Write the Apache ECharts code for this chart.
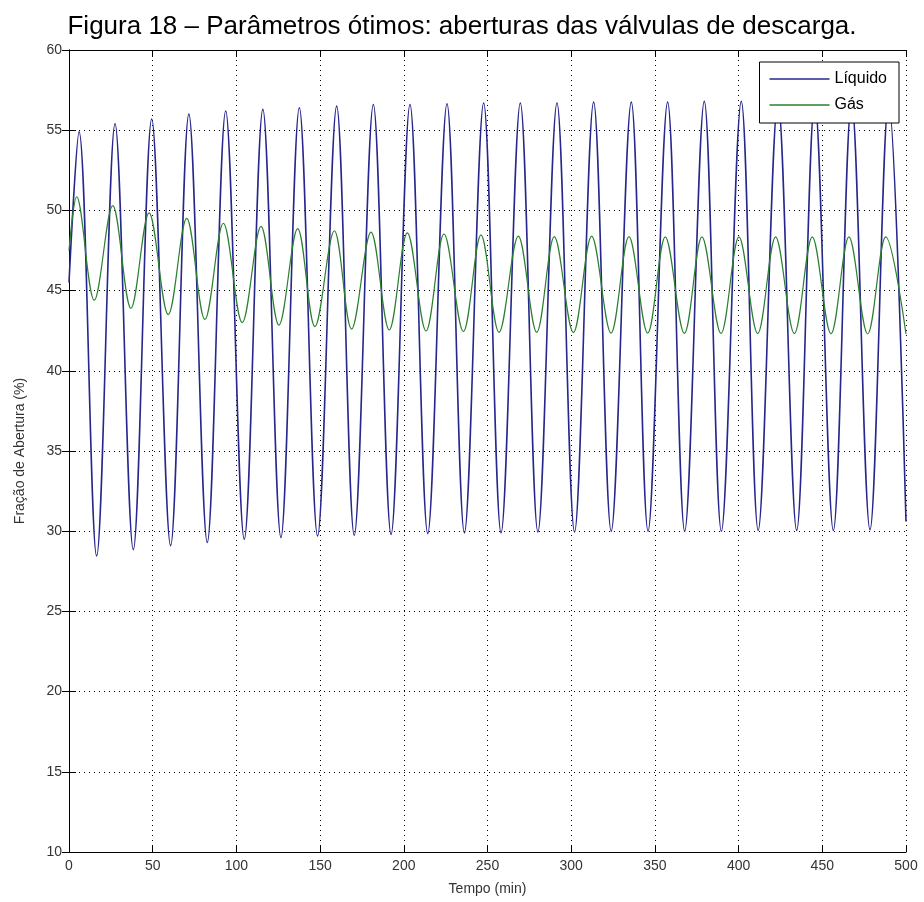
<!DOCTYPE html>
<html lang="pt">
<head>
  <meta charset="UTF-8">
  <title>Figura 18</title>
  <script src="https://cdn.jsdelivr.net/npm/echarts@6/dist/echarts.min.js"></script>
  <style>
    *{margin:0;padding:0;}
    body{background:#fff;}
    #chart{width:924px;height:902px;}
  </style>
</head>
<body>
  <div id="chart"></div>
  <script>
    // valores: início, picos e vales alternados, fim
    var liquidoTempo = [0, 6.0, 16.5, 27.5, 38.4, 49.4, 60.7, 71.6, 82.6, 93.6, 104.7, 115.8, 126.6,
      137.6, 148.5, 159.9, 170.4, 181.8, 192.4, 203.7, 214.3, 225.8, 236.2, 247.7, 258.1,
      269.6, 280.1, 291.5, 302.0, 313.4, 323.9, 335.9, 345.9, 357.6, 367.8, 379.5, 389.7,
      401.6, 411.7, 423.5, 434.7, 445.5, 456.6, 467.5, 478.5, 489.6, 500]
    var liquidoValor = [45.5, 54.9, 28.45, 55.4, 28.85, 55.7, 29.1, 56.0, 29.3, 56.2, 29.5, 56.3, 29.6,
      56.4, 29.7, 56.5, 29.75, 56.6, 29.8, 56.6, 29.85, 56.65, 29.9, 56.7, 29.9,
      56.7, 29.95, 56.7, 29.95, 56.75, 30.0, 56.75, 30.0, 56.75, 30.0, 56.8, 30.0,
      56.8, 30.05, 56.8, 30.05, 56.8, 30.05, 56.8, 30.1, 56.8, 30.6]

    var gasTempo = [0, 4.6, 15.1, 26.1, 37.0, 47.8, 59.3, 70.3, 81.2, 92.2, 103.5, 114.7, 125.4,
      136.6, 146.9, 158.5, 168.8, 180.4, 191.3, 202.1, 213.3, 224.0, 235.6, 246.1, 256.9,
      268.4, 279.4, 289.9, 301.3, 312.2, 323.8, 334.5, 345.7, 356.2, 367.6, 378.1, 389.5,
      400.2, 411.4, 422.1, 433.3, 444.0, 455.2, 465.9, 477.1, 487.9, 500]
    var gasValor = [47.5, 50.85, 44.4, 50.3, 43.9, 49.85, 43.5, 49.5, 43.2, 49.2, 43.0, 49.0, 42.85,
      48.87, 42.76, 48.73, 42.6, 48.65, 42.55, 48.6, 42.48, 48.53, 42.45, 48.47, 42.4,
      48.4, 42.4, 48.36, 42.38, 48.4, 42.35, 48.36, 42.35, 48.35, 42.33, 48.35, 42.33,
      48.35, 42.32, 48.35, 42.32, 48.35, 42.3, 48.35, 42.3, 48.35, 42.3]

    var xTicks = [0, 50, 100, 150, 200, 250, 300, 350, 400, 450, 500]
    var yTicks = [10, 15, 20, 25, 30, 35, 40, 45, 50, 55, 60]

    function pares(t, v) {
      return t.map(function (x, i) { return [x, v[i]] })
    }

    var fonte = 'Liberation Sans'
    var grade = { show: true, lineStyle: { color: '#000', width: 1, type: [1, 4] } }

    function eixoX(pos, rotulos) {
      return {
        type: 'value', position: pos, min: xTicks[0], max: xTicks[xTicks.length - 1], interval: 50,
        axisLine: { show: true, lineStyle: { color: '#000', width: 1 } },
        axisTick: { show: true, inside: true, length: 7, lineStyle: { color: '#000' } },
        axisLabel: { show: rotulos, color: '#333', fontFamily: fonte, fontSize: 14, margin: 7 },
        splitLine: rotulos ? grade : { show: false }
      }
    }
    function eixoY(pos, rotulos) {
      return {
        type: 'value', position: pos, min: yTicks[0], max: yTicks[yTicks.length - 1], interval: 5,
        axisLine: { show: true, lineStyle: { color: '#000', width: 1 } },
        axisTick: { show: true, inside: true, length: 7, lineStyle: { color: '#000' } },
        axisLabel: { show: rotulos, color: '#333', fontFamily: fonte, fontSize: 14, margin: 7 },
        splitLine: rotulos ? grade : { show: false }
      }
    }

    var chart = echarts.init(document.getElementById('chart'))
    var xPrincipal = eixoX('bottom', true)
    xPrincipal.name = 'Tempo (min)'
    xPrincipal.nameLocation = 'middle'
    xPrincipal.nameGap = 30
    xPrincipal.nameTextStyle = { color: '#333', fontFamily: fonte, fontSize: 14 }
    var yPrincipal = eixoY('left', true)
    yPrincipal.name = 'Fração de Abertura (%)'
    yPrincipal.nameLocation = 'middle'
    yPrincipal.nameGap = 42
    yPrincipal.nameTextStyle = { color: '#333', fontFamily: fonte, fontSize: 14 }

    chart.setOption({
      animation: false,
      backgroundColor: '#fff',
      title: {
        text: 'Figura 18 – Parâmetros ótimos: aberturas das válvulas de descarga.',
        left: 'center', top: 9,
        textStyle: { color: '#000', fontFamily: fonte, fontSize: 26, fontWeight: 'normal' }
      },
      grid: { left: 69, right: 18, top: 50, bottom: 50 },
      legend: {
        right: 25, top: 62, orient: 'vertical',
        backgroundColor: '#fff', borderColor: '#000', borderWidth: 1, borderRadius: 0,
        padding: [9, 12, 10, 10], itemGap: 10,
        icon: 'rect', itemWidth: 60, itemHeight: 1.5,
        textStyle: { color: '#000', fontFamily: fonte, fontSize: 16 },
        data: ['Líquido', 'Gás']
      },
      xAxis: [xPrincipal, eixoX('top', false)],
      yAxis: [yPrincipal, eixoY('right', false)],
      series: [
        {
          name: 'Líquido', type: 'line', data: pares(liquidoTempo, liquidoValor),
          smooth: 0.35, showSymbol: false, symbol: 'none',
          lineStyle: { color: '#26268c', width: 1.6 }, itemStyle: { color: '#26268c' }
        },
        {
          name: 'Gás', type: 'line', data: pares(gasTempo, gasValor),
          smooth: 0.35, showSymbol: false, symbol: 'none',
          lineStyle: { color: '#2a802e', width: 1.2 }, itemStyle: { color: '#2a802e' }
        }
      ]
    })
    window.onresize = chart.resize
  </script>
</body>
</html>
